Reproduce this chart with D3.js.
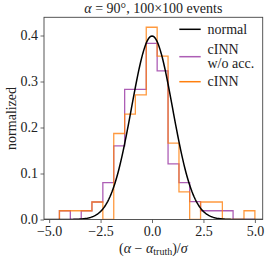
<!DOCTYPE html>
<html lang="en">
  <head>
    <meta charset="utf-8">
    <title>cINN pulls</title>
    <script src="https://d3js.org/d3.v7.min.js"></script>
    <style>
      body { margin: 0; background: #fff; }
      text { font-family: "Liberation Serif", "DejaVu Serif", serif; fill: #222; }
    </style>
  </head>

  <body>

  <script>

// histogram bins (shared by both series)
  var binEdges = [-4.5, -3.97, -3.44, -2.92, -2.39, -1.86, -1.33, -0.81, -0.28, 0.25,
                  0.78, 1.31, 1.83, 2.36, 2.89, 3.42, 3.94, 4.47, 5.0];

// normalized heights per bin
  var noAcc = [0.019, 0, 0.019, 0.038, 0.080, 0.160, 0.283, 0.283, 0.383, 0.323,
               0.121, 0.080, 0.039, 0.019, 0.019, 0.019, 0, 0];
  var cinn  = [0.019, 0.019, 0.019, 0.038, 0, 0.187, 0.229, 0.271, 0.418, 0.355,
               0.166, 0.060, 0, 0.038, 0.038, 0, 0, 0.019];

  var xTicks = [-5.0, -2.5, 0.0, 2.5, 5.0];
  var yTicks = [0.0, 0.1, 0.2, 0.3, 0.4];

  var w = 274;
  var h = 259;
  var pL = 44, pR = 262.7, pT = 17.3, pB = 219.5;   // plot frame
  var fs = 14;

  var svg = d3.select("body")
    .append("svg")
      .attr("width", w)
      .attr("height", h);

  var x = d3.scaleLinear().domain([-5.25, 5.38]).range([pL, pR]);
  var y = d3.scaleLinear().domain([0, 0.4396]).range([pB, pT]);

  svg.append("clipPath").attr("id", "clip")
    .append("rect")
      .attr("x", pL).attr("y", pT)
      .attr("width", pR - pL).attr("height", pB - pT);

  var plot = svg.append("g").attr("clip-path", "url(#clip)");

// step outline like matplotlib histtype='step'
  function stepPath(vals) {
    var pts = [[binEdges[0], 0]];
    vals.forEach(function (v, i) {
      pts.push([binEdges[i], v]);
      pts.push([binEdges[i + 1], v]);
    });
    pts.push([binEdges[binEdges.length - 1], 0]);
    return d3.line().x(d => x(d[0])).y(d => y(d[1]))(pts);
  }

  plot.append("path")
      .attr("d", stepPath(noAcc))
      .attr("fill", "none")
      .attr("stroke", "#8a1a96")
      .attr("stroke-opacity", 0.7)
      .attr("stroke-width", 1.3);

  plot.append("path")
      .attr("d", stepPath(cinn))
      .attr("fill", "none")
      .attr("stroke", "#ff7f0e")
      .attr("stroke-opacity", 0.8)
      .attr("stroke-width", 1.3);

// standard normal density
  var gx = d3.range(-5.5, 5.51, 0.05);
  plot.append("path")
      .datum(gx)
      .attr("d", d3.line()
        .x(d => x(d))
        .y(d => y(Math.exp(-d * d / 2) / Math.sqrt(2 * Math.PI))))
      .attr("fill", "none")
      .attr("stroke", "#000")
      .attr("stroke-width", 1.5);

// axes
  var xAxis = svg.append("g")
      .attr("transform", "translate(0," + pB + ")")
      .call(d3.axisBottom(x).tickValues(xTicks).tickFormat(d3.format(".1f")).tickSizeOuter(0).tickSize(3.5));
  var yAxis = svg.append("g")
      .attr("transform", "translate(" + pL + ",0)")
      .call(d3.axisLeft(y).tickValues(yTicks).tickFormat(d3.format(".1f")).tickSizeOuter(0).tickSize(3.5));

  [xAxis, yAxis].forEach(function (a) {
    a.select(".domain").remove();
    a.selectAll("line").attr("stroke", "#444").attr("stroke-width", 0.8);
    a.selectAll("text").attr("font-size", fs).attr("fill", "#222")
      .style("font-family", '"Liberation Serif", serif');
  });
  xAxis.selectAll("text").attr("dy", "0.72em").text(d => d3.format(".1f")(d).replace("-", "\u2212"));
  yAxis.selectAll("text").attr("x", -6);

  svg.append("rect")
      .attr("x", pL).attr("y", pT)
      .attr("width", pR - pL).attr("height", pB - pT)
      .attr("fill", "none")
      .attr("stroke", "#444")
      .attr("stroke-width", 0.9);

// title
  var title = svg.append("text")
      .attr("x", (pL + pR) / 2).attr("y", 12.5)
      .attr("text-anchor", "middle")
      .attr("font-size", fs);
  title.append("tspan").attr("font-style", "italic").text("\u03b1");
  title.append("tspan").text(" = 90\u00b0,  100\u00d7100 events");

// axis labels
  var xl = svg.append("text")
      .attr("x", (pL + pR) / 2).attr("y", 252.5)
      .attr("text-anchor", "middle")
      .attr("font-size", fs);
  xl.append("tspan").text("(");
  xl.append("tspan").attr("font-style", "italic").text("\u03b1");
  xl.append("tspan").text(" \u2212 ");
  xl.append("tspan").attr("font-style", "italic").text("\u03b1");
  xl.append("tspan").attr("font-size", 10).attr("dy", 2.5).text("truth");
  xl.append("tspan").attr("dy", -2.5).text(")/");
  xl.append("tspan").attr("font-style", "italic").text("\u03c3");

  svg.append("text")
      .attr("transform", "translate(16," + (pT + pB) / 2 + ") rotate(-90)")
      .attr("text-anchor", "middle")
      .attr("font-size", fs)
      .text("normalized");

// legend
  var legend = [
    {label: ["normal"], color: "#000", op: 1, ly: 29.3},
    {label: ["cINN", "w/o acc."], color: "#8a1a96", op: 0.7, ly: 56.7},
    {label: ["cINN"], color: "#ff7f0e", op: 1, ly: 81.7}
  ];
  var lg = svg.append("g");
  legend.forEach(function (d) {
    lg.append("line")
        .attr("x1", 179.3).attr("x2", 200.7)
        .attr("y1", d.ly).attr("y2", d.ly)
        .attr("stroke", d.color)
        .attr("stroke-opacity", d.op)
        .attr("stroke-width", 1.5);
    var t = lg.append("text")
        .attr("x", 207.5)
        .attr("y", d.ly - (d.label.length - 1) * 7 + 4.5)
        .attr("font-size", fs);
    d.label.forEach(function (s, i) {
      t.append("tspan").attr("x", 207.5).attr("dy", i ? 14 : 0).text(s);
    });
  });

  </script>

  </body>

</html>
